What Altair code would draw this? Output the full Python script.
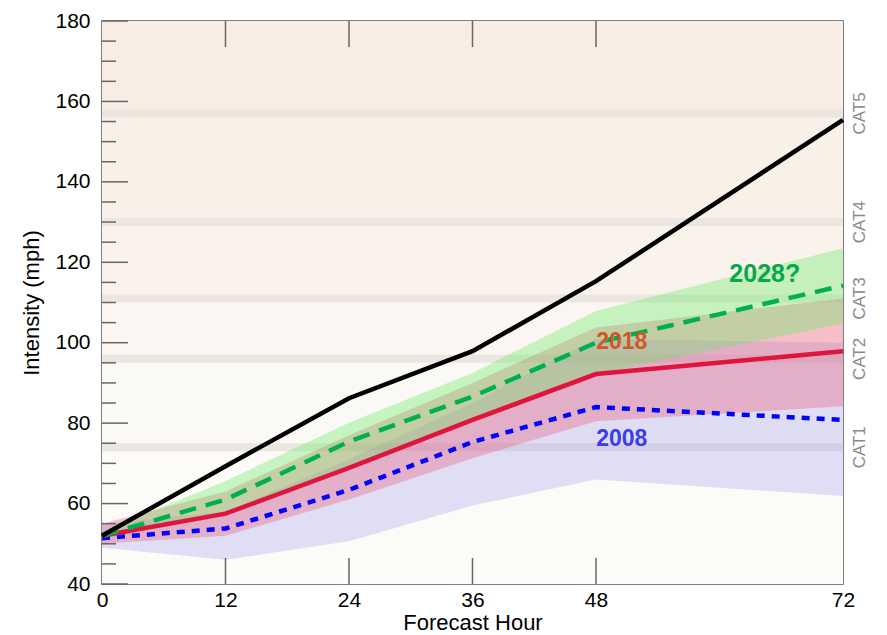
import altair as alt
import pandas as pd

# ---------------- data ----------------
hours = [0, 12, 24, 36, 48, 72]
black_vals = [52.0, 69.3, 86.2, 97.9, 115.3, 155.4]
y2018 = [52.0, 57.5, 68.9, 80.8, 92.2, 97.9]
y2008 = [51.4, 53.8, 63.4, 75.3, 84.0, 80.8]
y2028 = [52.0, 61.0, 75.4, 86.6, 100.0, 114.2]

lo2008 = [49.0, 46.0, 50.6, 59.5, 66.0, 61.9]
hi2008 = [55.0, 58.0, 71.0, 85.0, 101.0, 100.0]
lo2018 = [50.0, 52.0, 61.0, 71.3, 80.5, 84.2]
hi2018 = [55.0, 63.0, 77.0, 90.0, 103.8, 111.0]
lo2028 = [51.0, 57.5, 69.0, 81.0, 92.2, 104.8]
hi2028 = [53.0, 65.6, 80.1, 92.5, 107.9, 123.5]

cat_names = ["CAT1", "CAT2", "CAT3", "CAT4", "CAT5"]
cat_thr = [74, 96, 111, 130, 157]
bg_lo = [40, 74, 96, 111, 130, 157]
bg_hi = [74, 96, 111, 130, 157, 180]
bg_col = ["#fcfbf8", "#fbf9f5", "#fbf6f1", "#faf3ec", "#f9f0e8", "#f8ede4"]

y_major = [40, 60, 80, 100, 120, 140, 160, 180]
y_minor = [45, 50, 55, 65, 70, 75, 85, 90, 95, 105, 110, 115, 125, 130, 135,
           145, 150, 155, 165, 170, 175]
x_inner_ticks = [12, 24, 36, 48]

label_text = ["2028?", "2018", "2008"]
label_hour = [64.4, 50.5, 50.5]
label_mph = [117.1, 100.2, 76.1]
label_col = ["#06a84c", "#d2552b", "#3b3bf0"]
label_size = [25, 23, 23]

W, H = 741, 563
FONT = "Liberation Sans"

# ---------------- tables ----------------
df = pd.DataFrame({
    "hour": hours, "black": black_vals, "y2018": y2018, "y2008": y2008, "y2028": y2028,
    "lo2008": lo2008, "hi2008": hi2008, "lo2018": lo2018, "hi2018": hi2018,
    "lo2028": lo2028, "hi2028": hi2028,
})
bg_df = pd.DataFrame({"lo": bg_lo, "hi": bg_hi, "col": bg_col})
cat_df = pd.DataFrame({"name": cat_names, "thr": cat_thr})
ymaj_df = pd.DataFrame({"v": y_major})
ymin_df = pd.DataFrame({"v": y_minor})
xt_df = pd.DataFrame({"v": x_inner_ticks})
lab_df = pd.DataFrame({"t": label_text, "h": label_hour, "m": label_mph,
                       "c": label_col, "s": label_size})

xs = alt.Scale(domain=[0, 72], nice=False, zero=False)
ys = alt.Scale(domain=[40, 180], nice=False, zero=False)

Y_AX = alt.Axis(
    values=y_major, title="Intensity (mph)", ticks=False, domain=False, grid=False,
    labelFont=FONT, labelFontSize=21, labelColor="#000", labelPadding=12,
    labelFlush=False, titleFont=FONT, titleFontSize=22, titleFontWeight="normal",
    titleColor="#000", titlePadding=11)
X_AX = alt.Axis(
    values=hours, title="Forecast Hour", ticks=False, domain=False, grid=False,
    labelFont=FONT, labelFontSize=21, labelColor="#000", labelPadding=5,
    labelFlush=False, titleFont=FONT, titleFontSize=22, titleFontWeight="normal",
    titleColor="#000", titlePadding=2)


def X(field):
    return alt.X(field, scale=xs, axis=X_AX, title="Forecast Hour")


def Y(field):
    return alt.Y(field, scale=ys, axis=Y_AX, title="Intensity (mph)")


# background category zones
bg = alt.Chart(bg_df).mark_rect().encode(
    x=alt.value(0), x2=alt.value(W),
    y=Y("lo:Q"), y2="hi:Q",
    color=alt.Color("col:N", scale=None),
)

bands_gray = alt.Chart(cat_df).transform_calculate(
    a="datum.thr - 1", b="datum.thr + 1"
).mark_rect(color="#ece6e0").encode(
    x=alt.value(0), x2=alt.value(W),
    y=Y("a:Q"), y2="b:Q",
)


def band(lo, hi, color, op):
    return alt.Chart(df).mark_area(color=color, opacity=op).encode(
        x=X("hour:Q"), y=Y(f"{lo}:Q"), y2=f"{hi}:Q",
    )


b2008 = band("lo2008", "hi2008", "#9c9cf0", 0.3)
b2018 = band("lo2018", "hi2018", "#ee5a78", 0.35)
b2028 = band("lo2028", "hi2028", "#62ea62", 0.35)


def line(field, color, width, dash=None):
    kw = dict(color=color, strokeWidth=width)
    if dash:
        kw["strokeDash"] = dash
    return alt.Chart(df).mark_line(**kw).encode(x=X("hour:Q"), y=Y(f"{field}:Q"))


l_black = line("black", "#000000", 4.5)
l_2018 = line("y2018", "#e0143c", 4.5)
l_2008 = line("y2008", "#0000ff", 4.5, [8, 7])
l_2028 = line("y2028", "#00b050", 4.5, [17, 10])

TICK = "#666666"
ymaj = alt.Chart(ymaj_df).mark_rule(color=TICK, strokeWidth=1.5).encode(
    y=Y("v:Q"), x=alt.value(0), x2=alt.value(26))
ymin = alt.Chart(ymin_df).mark_rule(color=TICK, strokeWidth=1.5).encode(
    y=Y("v:Q"), x=alt.value(0), x2=alt.value(14))
xbot = alt.Chart(xt_df).mark_rule(color=TICK, strokeWidth=1.5).encode(
    x=X("v:Q"), y=alt.value(H), y2=alt.value(H - 26))
xtop = alt.Chart(xt_df).mark_rule(color=TICK, strokeWidth=1.5).encode(
    x=X("v:Q"), y=alt.value(0), y2=alt.value(26))

labels = alt.Chart(lab_df).mark_text(font=FONT, fontWeight="bold").encode(
    x=X("h:Q"), y=Y("m:Q"),
    text="t:N",
    color=alt.Color("c:N", scale=None),
    size=alt.Size("s:Q", scale=None),
)

cats = alt.Chart(cat_df).mark_text(font=FONT, fontSize=17, angle=270,
                                   color="#8a8a8a").encode(
    y=Y("thr:Q"),
    x=alt.value(W + 17),
    text="name:N",
)

chart = alt.layer(
    bg, bands_gray, b2008, b2018, b2028,
    l_2008, l_2018, l_2028, l_black,
    ymaj, ymin, xbot, xtop, labels, cats,
).properties(
    width=W, height=H,
    padding={"left": 12, "top": 2, "right": 5, "bottom": 5},
).configure_view(stroke="#555555", strokeWidth=1.5)

chart.save("out.html", embed_options={"renderer": "svg", "actions": False})
